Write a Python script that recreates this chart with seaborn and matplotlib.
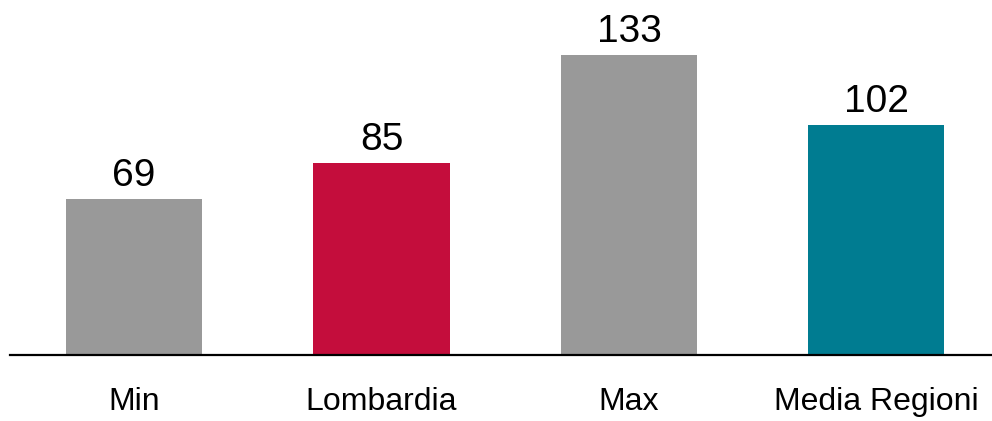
import matplotlib
matplotlib.use("Agg")
import matplotlib.pyplot as plt
import seaborn as sns
import pandas as pd

categories = ["Min", "Lombardia", "Max", "Media Regioni"]
values = [69, 85, 133, 102]
colors = ["#999999", "#C40D3C", "#999999", "#007C91"]

sns.set_theme(style="white")
plt.rcParams["font.family"] = ["Liberation Sans", "DejaVu Sans"]

df = pd.DataFrame({"cat": categories, "val": values})

fig = plt.figure(figsize=(9.92, 4.21), dpi=100)
ax = fig.add_axes([10 / 992, 66 / 421, 982 / 992, 355 / 421])

sns.barplot(data=df, x="cat", y="val", hue="cat", palette=colors,
            width=0.55, saturation=1, legend=False, linewidth=0, ax=ax)

for container, v in zip(ax.containers, values):
    ax.bar_label(container, labels=[f"{v}"], padding=3.5, fontsize=28, color="black")

ax.set_xlim(-0.501, 3.467)
ax.set_ylim(0, 157.3)
ax.set_xlabel("")
ax.set_ylabel("")
ax.set_yticks([])
ax.tick_params(axis="x", length=0, pad=23, labelsize=23, labelcolor="black")
for side in ["top", "left", "right"]:
    ax.spines[side].set_visible(False)
ax.spines["bottom"].set_color("black")
ax.spines["bottom"].set_linewidth(1.6)

fig.savefig("out.png", dpi=100)
